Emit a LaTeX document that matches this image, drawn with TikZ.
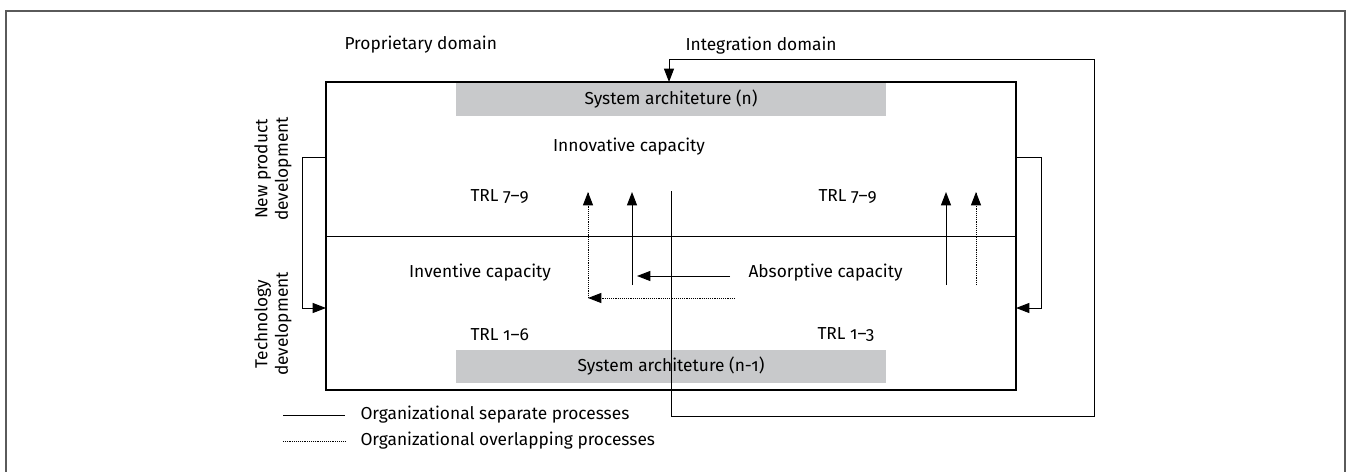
\documentclass[tikz,border=0pt]{standalone}
\usepackage{fontspec}
\setmainfont{Fira Sans}[Numbers=OldStyle]
\usetikzlibrary{arrows.meta}
\definecolor{barfill}{RGB}{200,201,203}
\definecolor{framegray}{RGB}{90,90,90}
\tikzset{every picture/.style={line width=0.75pt}}
\tikzset{
  lbl/.style={font=\fontsize{13}{15.5}\selectfont, inner sep=0pt},
  archbar/.style={fill=barfill, minimum width=322.5pt, minimum height=24.75pt, inner sep=0pt, font=\fontsize{13}{15.5}\selectfont},
  tip/.style={-{Triangle[length=10pt,width=7.5pt]}},
  overlap/.style={dash pattern=on 0.7pt off 0.7pt, line width=0.6pt}
}

\begin{document}
\begin{tikzpicture}[x=0.75pt,y=0.75pt,yscale=-1,xscale=1]
\useasboundingbox (0,0) rectangle (1348,471);

%Shape: Rectangle [outer frame]
\draw [color=framegray, line width=1pt] (6,11) rectangle (1345,473);

%Shape: Rectangle [main box]
\draw [line width=0.9pt] (326,82) rectangle (1016,390);
%Straight Lines [domain divider]
\draw (326,236) -- (1016,236);

%Shape: Rectangle [architecture bars]
\node [archbar] (sysn) at (671,99.5) {System architeture (n)};
\node [archbar] (sysn1) at (671,366.5) {System architeture (n-1)};

%Text labels
\node [lbl, anchor=west] (prop) at (344,45) {Proprietary domain};
\node [lbl, anchor=west] (integ) at (685,46) {Integration domain};
\node [lbl] (innov) at (629,147) {Innovative capacity};
\node [lbl, anchor=west] (trlA) at (470,197) {TRL 7–9};
\node [lbl, anchor=west] (trlB) at (818,197) {TRL 7–9};
\node [lbl] (invent) at (480,273) {Inventive capacity};
\node [lbl, anchor=west] (absorb) at (748,273) {Absorptive capacity};
\node [lbl, anchor=west] (trlC) at (470,335) {TRL 1–6};
\node [lbl, anchor=west] (trlD) at (817,335) {TRL 1–3};
\node [lbl, rotate=90, align=center] (npd) at (273,169) {New product\\development};
\node [lbl, rotate=90, align=center] (techdev) at (273,324) {Technology\\development};

%Integration loop
\coordinate (divtop) at (671,191);
\coordinate (loopbr) at (1094,416);
\coordinate (looptl) at (669,59);
\coordinate (boxtop) at (669,82);
\draw [tip] (divtop) |- (loopbr) |- (looptl) -- (boxtop);

%Side loops
\coordinate (lstart) at (326,157);
\coordinate (lcorner) at (302,308);
\coordinate (lend) at (326,308);
\draw [tip] (lstart) -| (lcorner) -- (lend);
\coordinate (rstart) at (1016,157);
\coordinate (rcorner) at (1041,308);
\coordinate (rend) at (1016,308);
\draw [tip] (rstart) -| (rcorner) -- (rend);

%Capacity arrows
\coordinate (dotcorner) at (588,298);
\coordinate (dotup) at (588,192);
\coordinate (dotstart) at (735,298);
\draw [overlap] (dotcorner) -- (dotup);
\draw [tip] (588,204) -- (dotup);
\draw [overlap] (dotstart) -- (600,298);
\draw [tip] (600,298) -- (dotcorner);

\coordinate (solstart) at (632,285);
\coordinate (solup) at (632,192);
\draw [tip] (solstart) -- (solup);
\coordinate (absstart) at (730,276);
\coordinate (absend) at (637,276);
\draw [tip] (absstart) -- (absend);

\coordinate (rsolstart) at (946,285);
\coordinate (rsolup) at (946,192);
\draw [tip] (rsolstart) -- (rsolup);
\coordinate (rdotstart) at (976,285);
\coordinate (rdotup) at (976,192);
\draw [overlap] (rdotstart) -- (rdotup);
\draw [tip] (976,204) -- (rdotup);

%Legend
\coordinate (legA1) at (283,415);
\coordinate (legA2) at (345,415);
\draw (legA1) -- (legA2);
\node [lbl, anchor=west] (legsep) at (360,415) {Organizational separate processes};
\coordinate (legB1) at (283,441);
\coordinate (legB2) at (345,441);
\draw [overlap] (legB1) -- (legB2);
\node [lbl, anchor=west] (legover) at (360,441) {Organizational overlapping processes};

\end{tikzpicture}
\end{document}
